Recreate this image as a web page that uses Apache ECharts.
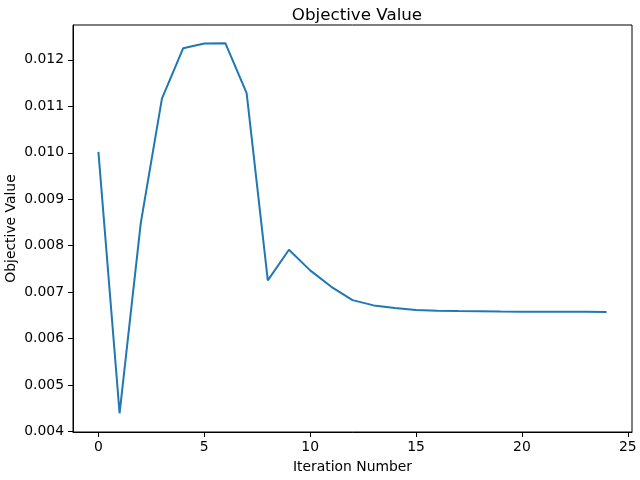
<!DOCTYPE html>
<html>
<head>
<meta charset="utf-8">
<script src="https://cdn.jsdelivr.net/npm/echarts@6/dist/echarts.min.js"></script>
<style>
  html, body { margin: 0; padding: 0; background: #fff; }
  #chart { width: 640px; height: 480px; }
</style>
</head>
<body>
<div id="chart"></div>
<script>
// iteration index and objective value per iteration
var iterations = [0, 1, 2, 3, 4, 5, 6, 7, 8, 9, 10, 11, 12, 13, 14, 15, 16, 17, 18, 19, 20, 21, 22, 23, 24]
var objective = [0.01002, 0.004393, 0.008485, 0.011165, 0.012248, 0.012352, 0.012355, 0.011285, 0.007253,
  0.007912, 0.007468, 0.007115, 0.006828, 0.006715, 0.006657, 0.006614, 0.0066, 0.006592, 0.006588,
  0.006582, 0.00658, 0.006578, 0.006577, 0.006576, 0.006575]
var xTicks = [0, 5, 10, 15, 20, 25]
var yTicks = [0.004, 0.005, 0.006, 0.007, 0.008, 0.009, 0.010, 0.011, 0.012]

var font = 'DejaVu Sans'
var chart = echarts.init(document.getElementById('chart'))

chart.setOption({
  backgroundColor: '#fff',
  animation: false,
  title: {
    text: 'Objective Value',
    left: 352,
    top: 2,
    textAlign: 'center',
    textStyle: { fontFamily: font, fontSize: 16.7, fontWeight: 'normal', color: '#000' }
  },
  grid: {
    left: 73,
    right: 8,
    top: 25,
    bottom: 48,
    outerBoundsMode: 'none',
    containLabel: false,
    show: true,
    borderColor: '#000',
    borderWidth: 1
  },
  xAxis: {
    type: 'value',
    min: -1.2,
    max: 25.2,
    name: 'Iteration Number',
    nameLocation: 'middle',
    nameGap: 28,
    nameMoveOverlap: false,
    nameTextStyle: { fontFamily: font, fontSize: 13.9, color: '#000' },
    axisLine: { onZero: false, lineStyle: { color: '#000', width: 1 } },
    axisTick: { show: true, length: 5, customValues: xTicks, lineStyle: { color: '#000' } },
    axisLabel: { customValues: xTicks, margin: 8, fontFamily: font, fontSize: 13.9, color: '#000' },
    splitLine: { show: false }
  },
  yAxis: {
    type: 'value',
    min: 0.00399,
    max: 0.01275,
    name: 'Objective Value',
    nameLocation: 'middle',
    nameGap: 55,
    nameMoveOverlap: false,
    nameTextStyle: { fontFamily: font, fontSize: 13.9, color: '#000' },
    axisLine: { show: true, onZero: false, lineStyle: { color: '#000', width: 1 } },
    axisTick: { show: true, length: 5, customValues: yTicks, lineStyle: { color: '#000' } },
    axisLabel: {
      customValues: yTicks,
      margin: 9,
      fontFamily: font,
      fontSize: 13.9,
      color: '#000',
      formatter: function (v) { return v.toFixed(3) }
    },
    splitLine: { show: false }
  },
  series: [{
    type: 'line',
    data: iterations.map(function (x, i) { return [x, objective[i]] }),
    showSymbol: false,
    symbol: 'none',
    lineStyle: { color: '#1f77b4', width: 2 },
    itemStyle: { color: '#1f77b4' }
  }]
})
</script>
</body>
</html>
